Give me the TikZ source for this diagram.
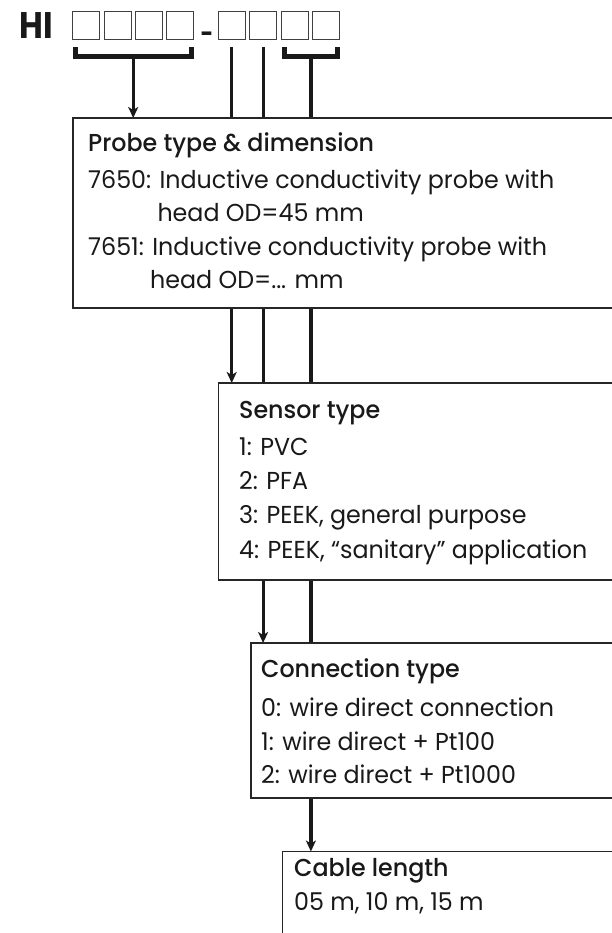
\documentclass[tikz,border=0pt]{standalone}
\usepackage{fontspec}
\setmainfont{Poppins}[FakeStretch=0.97, BoldFont={Poppins Medium}]
\newfontfamily\hifont{Poppins Bold}[FakeStretch=0.88]
\usetikzlibrary{arrows.meta, backgrounds}

\begin{document}
\begin{tikzpicture}[x=1pt, y=-1pt,
    digit/.style={draw=black!75, line width=0.9pt, minimum width=27pt, minimum height=27.5pt, inner sep=0pt, outer sep=0pt},
    frame/.style={draw=black!85, line width=1.2pt, fill=white, anchor=north west, inner sep=0pt, outer sep=0pt, minimum width=640pt},
    txt/.style={anchor=base west, align=left, inner sep=0pt, font=\fontsize{24.5}{33.3}\selectfont, text=black!90},
    bracket/.style={line width=5pt, draw=black!90, line join=miter},
    conn/.style={line width=3.2pt, draw=black!90},
    arr/.style={-{Stealth[length=11pt, width=10pt, inset=3pt]}}]
    \useasboundingbox (0,0) rectangle (612,933);
    \clip (0,0) rectangle (612,933);

    \node[anchor=base west, inner sep=0pt, text=black!90, font=\hifont\fontsize{37}{37}\selectfont] (hi) at (19,39) {HI};
    \node[anchor=base, inner sep=0pt, text=black!90, font=\hifont\fontsize{25}{25}\selectfont] (hyph) at (207,42.5) {-};
    \foreach \i/\cx in {1/86.3, 2/117.5, 3/148.7, 4/179.9, 5/231.7, 6/263.1, 7/294.5, 8/325.9}
        \node[digit] (d\i) at (\cx,25.5) {};

    \draw[bracket] (75.2,47.5) -- (75.2,56.8) -- (191.2,56.8) -- (191.2,47.5);
    \draw[bracket] (284.2,47.5) -- (284.2,56.8) -- (337.5,56.8) -- (337.5,47.5);
    \coordinate (brA) at (133.2,56.8);
    \coordinate (brB) at (310.9,56.8);
    \coordinate (c5) at (231.7,47.5);
    \coordinate (c6) at (263.1,47.5);

    \node[frame, minimum height=190pt] (probe) at (73,118) {};
    \node[frame, minimum height=197pt] (sensor) at (218.5,383) {};
    \node[frame, minimum height=155pt] (conn) at (251,643) {};
    \node[frame, minimum height=120pt] (cable) at (282.5,851.5) {};

    % anchored at the baseline of the last line
    \node[txt] (probetxt) at (88,288.3) {\textbf{Probe type \& dimension}\\[3.4pt]
        7650: Inductive conductivity probe with\\
        \hphantom{7650:\ }head OD=45 mm\\
        7651: Inductive conductivity probe with\\
        \hphantom{7651:\ }head OD=... mm};
    \node[txt, font=\fontsize{24.5}{34.4}\selectfont] (sensortxt) at (239,558.3) {\textbf{Sensor type}\\[2.6pt]
        1: PVC\\
        2: PFA\\
        3: PEEK, general purpose\\
        4: PEEK, “sanitary” application};
    \node[txt] (conntxt) at (261,783.3) {\textbf{Connection type}\\[6pt]
        0: wire direct connection\\
        1: wire direct + Pt100\\
        2: wire direct + Pt1000};
    \node[txt] (cabletxt) at (294,910) {\textbf{Cable length}\\
        05 m, 10 m, 15 m};

    \begin{pgfonlayer}{background}
        \draw[conn, arr] (brA) -- (brA |- probe.north);
        \draw[conn, arr] (c5) -- (c5 |- sensor.north);
        \draw[conn, arr] (c6) -- (c6 |- conn.north);
        \draw[conn, arr] (brB) -- (brB |- cable.north);
    \end{pgfonlayer}
\end{tikzpicture}
\end{document}
